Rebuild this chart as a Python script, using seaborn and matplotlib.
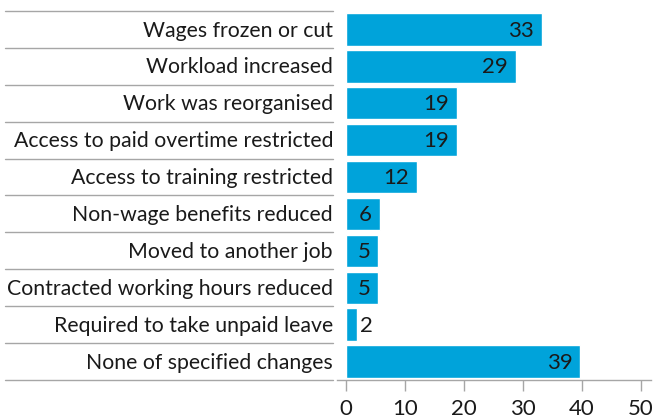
import matplotlib
matplotlib.use("Agg")
import matplotlib.pyplot as plt
import seaborn as sns
import pandas as pd

categories = [
    "Wages frozen or cut",
    "Workload increased",
    "Work was reorganised",
    "Access to paid overtime restricted",
    "Access to training restricted",
    "Non-wage benefits reduced",
    "Moved to another job",
    "Contracted working hours reduced",
    "Required to take unpaid leave",
    "None of specified changes",
]
# bar lengths as drawn, and the rounded labels printed on them
values = [33.2, 28.8, 18.85, 18.85, 12.05, 5.77, 5.43, 5.43, 1.87, 39.7]
labels = [33, 29, 19, 19, 12, 6, 5, 5, 2, 39]
xticks = [0, 10, 20, 30, 40, 50]

df = pd.DataFrame({"cat": categories, "val": values})

sns.set_theme(style="white")
plt.rcParams["font.family"] = ["Lato", "DejaVu Sans"]

bar_color = "#00a3da"
grey = "#a6a6a6"
text_color = "#1a1a1a"
fs = 15.3
fs_num = 16

fig = plt.figure(figsize=(6.57, 4.2), dpi=100)
ax = fig.add_axes([337 / 657, 1 - 380 / 420, 314 / 657, 369 / 420])

sns.barplot(data=df, x="val", y="cat", orient="h", color=bar_color,
            saturation=1, width=0.88, ax=ax)

ax.set_xlim(-1.5, 51.7)
ax.set_ylim(len(categories) - 0.5, -0.5)
ax.set_xlabel("")
ax.set_ylabel("")
ax.set_yticks([])
ax.set_xticks(xticks)
ax.set_xticklabels([str(t) for t in xticks], fontsize=fs_num, color=text_color)
ax.tick_params(axis="x", direction="out", length=8, width=1, color=grey, pad=6,
               bottom=True)

for s in ["top", "right", "left"]:
    ax.spines[s].set_visible(False)
ax.spines["bottom"].set_color(grey)
ax.spines["bottom"].set_linewidth(1)

# separators and labels on the left
x0 = (5 - 337) / 314
x1 = (333 - 337) / 314
tr = ax.get_yaxis_transform()
for i in range(len(categories) + 1):
    ax.plot([x0, x1], [i - 0.5, i - 0.5], transform=tr, color=grey, lw=1,
            clip_on=False)
for i, c in enumerate(categories):
    ax.text(x1, i + 0.03, c, transform=tr, ha="right", va="center",
            fontsize=fs, color=text_color)

# value labels
for i, (v, lab) in enumerate(zip(values, labels)):
    if v >= 5:
        ax.text(v - 1.3, i + 0.03, str(lab), ha="right", va="center",
                fontsize=fs_num, color=text_color)
    else:
        ax.text(v + 0.6, i + 0.03, str(lab), ha="left", va="center",
                fontsize=fs_num, color=text_color)

fig.savefig("out.png", dpi=100)
